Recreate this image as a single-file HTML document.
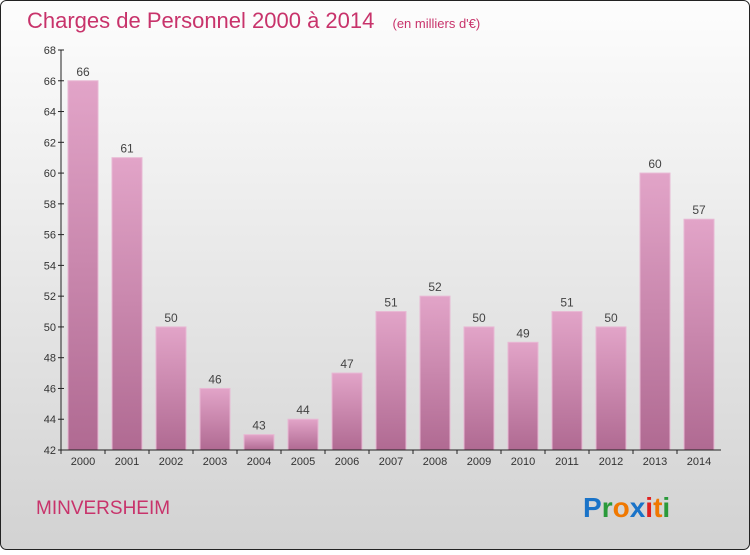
<!DOCTYPE html>
<html><head><meta charset="utf-8"><style>
body{margin:0;width:750px;height:550px;overflow:hidden;font-family:"Liberation Sans",sans-serif}
</style></head><body>
<svg width="750" height="550">
<defs>
<linearGradient id="bg" x1="0" y1="0" x2="0" y2="1"><stop offset="0" stop-color="#fdfdfd"/><stop offset="1" stop-color="#d2d2d2"/></linearGradient>
<linearGradient id="bar" x1="0" y1="0" x2="0" y2="1"><stop offset="0" stop-color="#e2a4c8"/><stop offset="1" stop-color="#b06a92"/></linearGradient>
</defs>
<rect x="0.5" y="0.5" width="749" height="549" rx="6" fill="url(#bg)" stroke="#222"/>
<text x="27" y="28" font-size="22" fill="#c8336b">Charges de Personnel 2000 à 2014 <tspan font-size="13" dx="12">(en milliers d'€)</tspan></text>
<g id="plot"></g>
<text x="36" y="514" font-size="19" fill="#c8336b">MINVERSHEIM</text>
<text x="583" y="517" font-size="28" font-weight="bold"><tspan fill="#1a73c8">P</tspan><tspan fill="#2a9a3a">r</tspan><tspan fill="#f07800">o</tspan><tspan fill="#1a73c8">x</tspan><tspan fill="#e02020">i</tspan><tspan fill="#f07800">t</tspan><tspan fill="#2a9a3a">i</tspan></text>
</svg>
<script>
const years=["2000","2001","2002","2003","2004","2005","2006","2007","2008","2009","2010","2011","2012","2013","2014"];
const values=[66,61,50,46,43,44,47,51,52,50,49,51,50,60,57];
const yTicks=[42,44,46,48,50,52,54,56,58,60,62,64,66,68];
const NS="http://www.w3.org/2000/svg";
const g=document.getElementById('plot');
const yMin=42,yMax=68,pTop=50,pBot=450,pLeft=61,pRight=721;
const y=v=>pBot-(v-yMin)/(yMax-yMin)*(pBot-pTop);
const step=(pRight-pLeft)/years.length;
const x=i=>pLeft+step*(i+0.5);
function mk(t,a){const e=document.createElementNS(NS,t);for(const k in a)e.setAttribute(k,a[k]);g.appendChild(e);return e;}
values.forEach((v,i)=>{
 const r=mk('rect',{x:x(i)-15,y:y(v),width:30,height:pBot-y(v),fill:'url(#bar)',stroke:'#e8b8d4','stroke-width':1});
 
 
 const t=mk('text',{x:x(i),y:y(v)-5,'font-size':12,fill:'#444','text-anchor':'middle'});t.textContent=v;
 
 
 const l=mk('text',{x:x(i),y:pBot+15,'font-size':11,fill:'#333','text-anchor':'middle'});l.textContent=years[i];
 
 
 const tk=mk('line',{x1:x(i)-step/2,x2:x(i)-step/2,y1:pBot,y2:pBot+4,stroke:'#222'});
 
 
});
yTicks.forEach(v=>{
 const t=mk('text',{x:pLeft-5,y:y(v)+4,'font-size':11,fill:'#333','text-anchor':'end'});t.textContent=v;
 
 
 const tk=mk('line',{x1:pLeft-3,x2:pLeft+3,y1:y(v),y2:y(v),stroke:'#222'});
 
 
});
const ya=mk('line',{x1:pLeft,x2:pLeft,y1:pTop,y2:pBot,stroke:'#222'});


const xa=mk('line',{x1:pLeft,x2:pRight,y1:pBot,y2:pBot,stroke:'#222'});


</script>
</body></html>
